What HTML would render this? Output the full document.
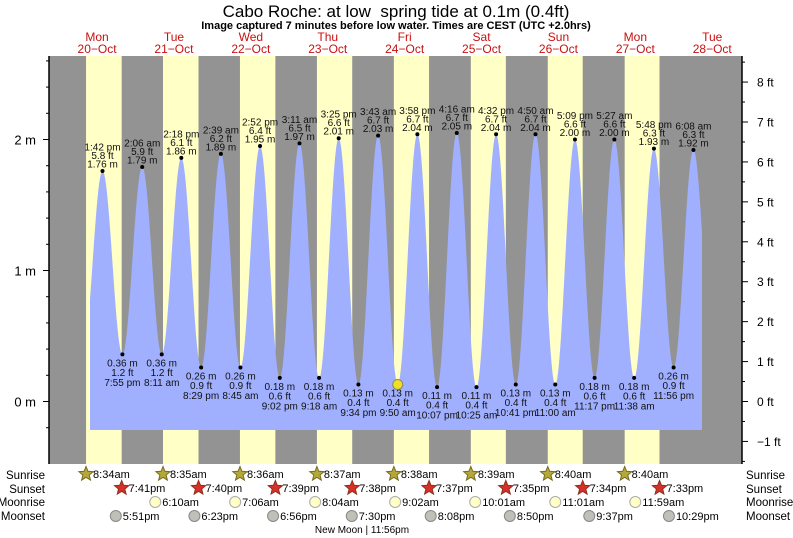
<!DOCTYPE html>
<html><head><meta charset="utf-8"><style>
body{margin:0;background:#fff}
svg{display:block;font-family:"Liberation Sans",sans-serif}
</style></head><body>
<svg id="s" width="793" height="538" xmlns="http://www.w3.org/2000/svg"></svg>
<script>
const S=document.getElementById('s');let h='';
const X0=58.6,PD=76.9,PH=PD/24;
const tx=(d,hh,mm)=>X0+d*PD+(hh+mm/60)*PH;
const Y0=401.5,PM=131;const ym=m=>Y0-m*PM;
h+='<rect x="49" y="56" width="693" height="408" fill="#939393"/>';
const sr=[[8,34],[8,35],[8,36],[8,37],[8,38],[8,39],[8,40],[8,40]];
const ss=[[19,41],[19,40],[19,39],[19,38],[19,37],[19,35],[19,34],[19,33]];
for(let d=0;d<8;d++){const a=tx(d,...sr[d]),b=tx(d,...ss[d]);h+=`<rect x="${a}" y="56" width="${b-a}" height="408" fill="#ffffc6"/>`;}
const E=[[0,7,38,0.40,0],[0,13,42,1.76,1],[0,19,55,0.36,1],[1,2,6,1.79,1],[1,8,11,0.36,1],[1,14,18,1.86,1],[1,20,29,0.26,1],[2,2,39,1.89,1],[2,8,45,0.26,1],[2,14,52,1.95,1],[2,21,2,0.18,1],[3,3,11,1.97,1],[3,9,18,0.18,1],[3,15,25,2.01,1],[3,21,34,0.13,1],[4,3,43,2.03,1],[4,9,50,0.13,1],[4,15,58,2.04,1],[4,22,7,0.11,1],[5,4,16,2.05,1],[5,10,25,0.11,1],[5,16,32,2.04,1],[5,22,41,0.13,1],[6,4,50,2.04,1],[6,11,0,0.13,1],[6,17,9,2.00,1],[6,23,17,0.18,1],[7,5,27,2.00,1],[7,11,38,0.18,1],[7,17,48,1.93,1],[7,23,56,0.26,1],[8,6,8,1.92,1],[8,12,20,0.30,0]];
const P=E.map(e=>[tx(e[0],e[1],e[2]),e[3]]);
const xs=90,xe=702;let pts=[];
for(let x=xs;x<=xe;x+=0.5){let i=0;while(i<P.length-2&&P[i+1][0]<x)i++;const [x1,v1]=P[i],[x2,v2]=P[i+1];const f=(x-x1)/(x2-x1);const v=v1+(v2-v1)*(1-Math.cos(Math.PI*f))/2;pts.push(x.toFixed(1)+','+ym(v).toFixed(1));}
h+=`<polygon points="${xs},430 ${pts.join(' ')} ${xe},430" fill="#a0b0ff"/>`;
const fmt=(hh,mm)=>{let ap=hh>=12?'pm':'am';let H=hh%12;if(H==0)H=12;return H+':'+String(mm).padStart(2,'0')+' '+ap;};
const T=(x,y,t)=>`<text x="${x}" y="${y}" font-size="10" text-anchor="middle" fill="#111">${t}</text>`;
E.forEach(e=>{if(!e[4])return;const x=tx(e[0],e[1],e[2]),y=ym(e[3]);const ft=(e[3]*3.2808).toFixed(1);const hi=e[3]>1;
h+=`<circle cx="${x}" cy="${y}" r="2" fill="#000"/>`;
if(hi){h+=T(x,y-20.5,fmt(e[1],e[2]))+T(x,y-12,ft+' ft')+T(x,y-3.5,e[3].toFixed(2)+' m');}
else{h+=T(x,y+12,e[3].toFixed(2)+' m')+T(x,y+21.5,ft+' ft')+T(x,y+31.5,fmt(e[1],e[2]));}
});
h+=`<circle cx="${tx(4,9,50)}" cy="${ym(0.13)}" r="5" fill="#f0e020" stroke="#886" stroke-width="1"/>`;
h+='<line x1="49" y1="56" x2="49" y2="464" stroke="#000" stroke-width="1.5"/><line x1="742" y1="56" x2="742" y2="464" stroke="#000" stroke-width="1.5"/>';
for(let m=-0.2;m<=2.61;m+=0.2){const y=ym(m);if(y<57||y>463)continue;h+=`<line x1="49" y1="${y}" x2="${Math.abs(m-Math.round(m))<0.01?43:46}" y2="${y}" stroke="#000"/>`;}
[0,1,2].forEach(m=>h+=`<text x="36" y="${ym(m)+5}" font-size="13" text-anchor="end">${m} m</text>`);
for(let f=-1.5;f<=8.6;f+=0.5){const y=ym(f*0.3048);if(y<57||y>463)continue;const big=Number.isInteger(f);h+=`<line x1="742" y1="${y}" x2="${big?748:745}" y2="${y}" stroke="#000"/>`;if(big)h+=`<text x="757" y="${y+4.5}" font-size="12">${f<0?'−'+(-f):f} ft</text>`;}
h+='<text x="396" y="17" font-size="17" text-anchor="middle" style="white-space:pre">Cabo Roche: at low  spring tide at 0.1m (0.4ft)</text>';
h+='<text x="396" y="29" font-size="11" font-weight="bold" text-anchor="middle">Image captured 7 minutes before low water. Times are CEST (UTC +2.0hrs)</text>';
const days=['Mon','Tue','Wed','Thu','Fri','Sat','Sun','Mon','Tue'];
for(let d=0;d<9;d++){const x=tx(d,12,0);h+=`<text x="${x}" y="41" font-size="12" fill="#c81010" text-anchor="middle">${days[d]}</text><text x="${x}" y="53" font-size="12" fill="#c81010" text-anchor="middle">${20+d}−Oct</text>`;}
const star=(cx,cy,c,sc)=>{let p=[];for(let k=0;k<10;k++){const r=k%2?3.3:7.5,a=-Math.PI/2+k*Math.PI/5;p.push((cx+r*Math.cos(a)).toFixed(1)+','+(cy+r*Math.sin(a)).toFixed(1));}return `<polygon points="${p.join(' ')}" fill="${c}" stroke="${sc}" stroke-width="1"/>`;};
const L=(y,t)=>`<text x="45" y="${y}" font-size="11.5" text-anchor="end">${t}</text><text x="746" y="${y}" font-size="11.5">${t}</text>`;
h+=L(479,'Sunrise')+L(493,'Sunset')+L(506,'Moonrise')+L(520,'Moonset');
const lt=(hh,mm)=>{let ap=hh>=12?'pm':'am';let H=hh%12;if(H==0)H=12;return H+':'+String(mm).padStart(2,'0')+ap;};
const B=(x,y,t)=>`<text x="${x+7}" y="${y+4}" font-size="11">${t}</text>`;
sr.forEach((s,d)=>{const x=tx(d,...s);h+=star(x,474,'#b4a83a','#776b20')+B(x,474,lt(...s));});
ss.forEach((s,d)=>{const x=tx(d,...s);h+=star(x,488,'#d83028','#8a3020')+B(x,488,lt(...s));});
const mr=[[6,10],[7,6],[8,4],[9,2],[10,1],[11,1],[11,59]];
mr.forEach((s,i)=>{const x=tx(i+1,...s);h+=`<circle cx="${x}" cy="502" r="5.5" fill="#ffffc8" stroke="#aaa"/>`+B(x,502,lt(...s));});
const ms=[[17,51],[18,23],[18,56],[19,30],[20,8],[20,50],[21,37],[22,29]];
ms.forEach((s,d)=>{const x=tx(d,...s);h+=`<circle cx="${x}" cy="516" r="5.5" fill="#c0c0b8" stroke="#888"/>`+B(x,516,lt(...s));});
h+='<text x="362" y="533" font-size="10" text-anchor="middle">New Moon | 11:56pm</text>';
S.innerHTML=h;
</script>
</body></html>
